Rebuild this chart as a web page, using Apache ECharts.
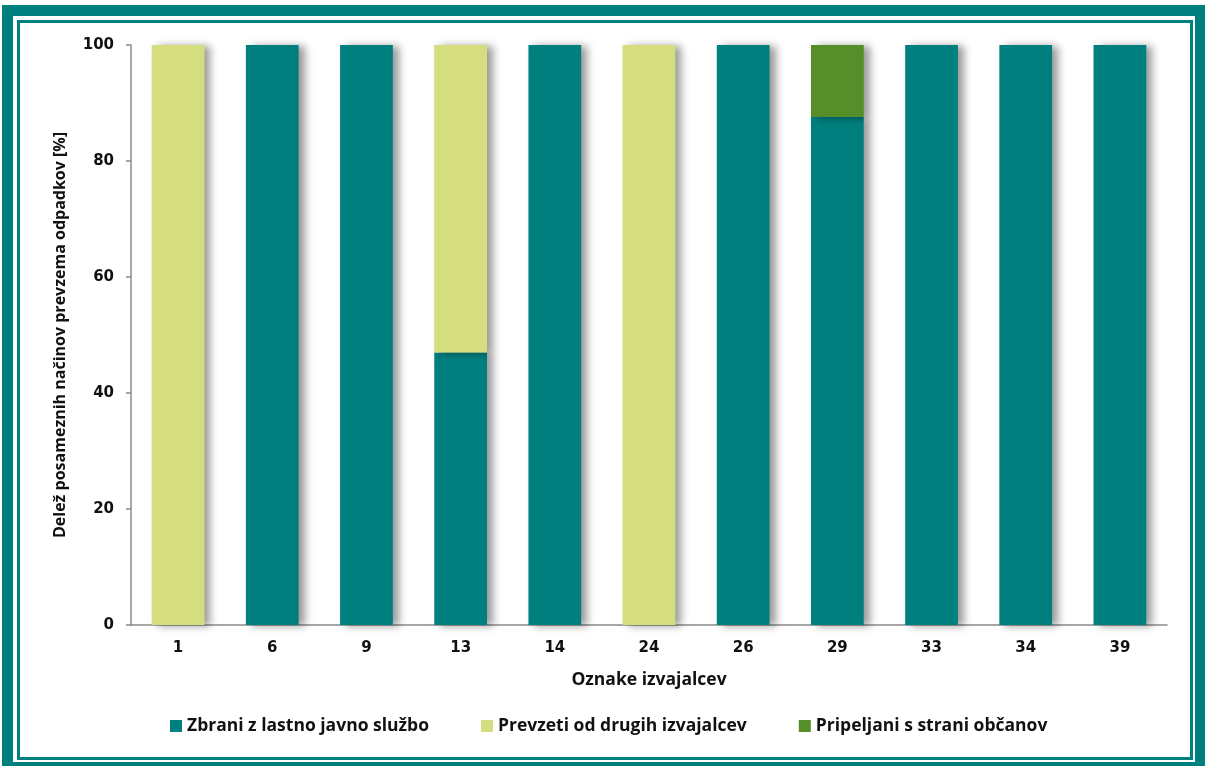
<!DOCTYPE html>
<html>
<head>
<meta charset="utf-8">
<script src="https://cdn.jsdelivr.net/npm/echarts@6/dist/echarts.min.js"></script>
<style>
html,body{margin:0;padding:0;background:#fff;}
#c{width:1205px;height:766px;}
</style>
</head>
<body>
<div id="c"></div>
<script>
const categories = ['1','6','9','13','14','24','26','29','33','34','39'];
const zbrani     = [0, 100, 100, 47, 100, 0, 100, 87.6, 100, 100, 100];
const prevzeti   = [100, 0, 0, 53, 0, 100, 0, 0, 0, 0, 0];
const pripeljani = [0, 0, 0, 0, 0, 0, 0, 12.4, 0, 0, 0];
const seriesNames = ['Zbrani z lastno javno službo', 'Prevzeti od drugih izvajalcev', 'Pripeljani s strani občanov'];
const colors = ['#007F7F', '#D4DE7F', '#568E2A'];

const chart = echarts.init(document.getElementById('c'), null, {renderer:'canvas'});
const clean = a => a.map(v => v === 0 ? '-' : v);
const shadow = {shadowColor:'rgba(0,0,0,0.4)', shadowBlur:8, shadowOffsetX:6, shadowOffsetY:1};
const mk = (name, data, color) => ({
  name, type:'bar', stack:'s', data: clean(data), barWidth:'56%',
  itemStyle: Object.assign({color}, shadow)
});
const txt = {fontFamily:'Open Sans', fontWeight:'bold', fontSize:17.5, color:'#111'};
const tick = {fontFamily:'DejaVu Sans', fontWeight:'bold', fontSize:15, color:'#111'};
chart.setOption({
  animation:false,
  backgroundColor:'#fff',
  graphic:[
    {type:'rect', shape:{x:7.5, y:10.5, width:1193, height:757}, style:{fill:'none', stroke:'#007F7F', lineWidth:11}, silent:true},
    {type:'rect', shape:{x:18.5, y:21.5, width:1173, height:737}, style:{fill:'none', stroke:'#007F7F', lineWidth:3}, silent:true}
  ],
  grid:{left:131, top:45, right:38, bottom:141},
  legend:{
    bottom:26, left:165, itemWidth:12, itemHeight:12, itemGap:52,
    icon:'rect',
    textStyle:txt,
    data: seriesNames
  },
  xAxis:{
    type:'category', data:categories,
    name:'Oznake izvajalcev', nameLocation:'middle', nameGap:46, nameTextStyle:txt,
    axisLine:{lineStyle:{color:'#8a8a8a', width:1.5}},
    axisTick:{length:6, lineStyle:{color:'#8a8a8a', width:1.5}},
    axisLabel:Object.assign({margin:16}, tick)
  },
  yAxis:{
    type:'value', min:0, max:100, interval:20,
    name:'Delež posameznih načinov prevzema odpadkov [%]', nameLocation:'middle', nameGap:63,
    nameTextStyle:Object.assign({}, txt, {fontSize:16}),
    axisLine:{show:true, lineStyle:{color:'#8a8a8a', width:1.5}},
    axisTick:{show:true, length:5, lineStyle:{color:'#8a8a8a', width:1.5}},
    splitLine:{show:false},
    axisLabel:Object.assign({margin:17}, tick)
  },
  series:[
    mk(seriesNames[0], zbrani, colors[0]),
    mk(seriesNames[1], prevzeti, colors[1]),
    mk(seriesNames[2], pripeljani, colors[2])
  ]
});
</script>
</body>
</html>
